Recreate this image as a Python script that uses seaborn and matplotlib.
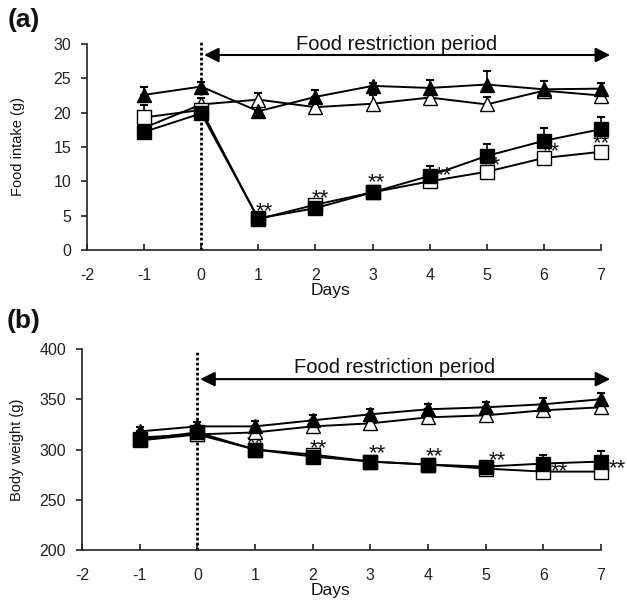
import numpy as np
import pandas as pd
import matplotlib
matplotlib.use("Agg")
import matplotlib.pyplot as plt
import seaborn as sns

days = [-1, 0, 1, 2, 3, 4, 5, 6, 7]

# (a) food intake (g)
fi_tri_fill = [22.6, 23.8, 20.2, 22.3, 23.9, 23.6, 24.1, 23.4, 23.5]
fi_tri_fill_err = [1.1, 0.7, 0.0, 1.0, 0.4, 1.1, 2.0, 1.2, 0.8]
fi_tri_open = [17.8, 21.2, 21.9, 20.8, 21.3, 22.2, 21.2, 23.2, 22.5]
fi_tri_open_err = [0.0, 1.0, 1.0, 0.0, 1.3, 0.4, 1.1, 0.0, 0.0]
fi_sq_open = [19.3, 20.4, 4.5, 6.6, 8.4, 10.0, 11.4, 13.4, 14.3]
fi_sq_open_err = [1.8, 0.0, 0.0, 0.0, 0.0, 0.0, 0.0, 0.0, 0.0]
fi_sq_fill = [17.2, 19.9, 4.6, 6.1, 8.4, 10.8, 13.7, 15.9, 17.6]
fi_sq_fill_err = [0.0, 0.0, 0.0, 0.0, 0.5, 1.4, 1.8, 1.8, 1.7]
fi_star_x = [1.1, 2.08, 3.06, 4.24, 5.1, 6.13, 7.0]
fi_star_y = [5.8, 7.7, 10.0, 11.0, 12.5, 14.6, 15.7]

# (b) body weight (g)
bw_tri_fill = [318, 323, 323, 329, 335, 340, 342, 345, 350]
bw_tri_fill_err = [4, 4, 5, 5, 5, 5, 5, 6, 6]
bw_tri_open = [312, 315, 317, 323, 326, 332, 334, 339, 342]
bw_tri_open_err = [0, 0, 0, 0, 0, 0, 0, 0, 0]
bw_sq_open = [309, 315, 300, 295, 288, 285, 281, 278, 278]
bw_sq_open_err = [0, 0, 0, 0, 0, 0, 3, 0, 0]
bw_sq_fill = [310, 317, 300, 293, 288, 285, 283, 286, 288]
bw_sq_fill_err = [0, 0, 0, 0, 0, 0, 3, 9, 11]
bw_star_x = [1.0, 2.09, 3.12, 4.11, 5.2, 6.27, 7.29]
bw_star_y = [307, 302, 297, 294, 290, 279, 282]

sns.set_style("ticks")
plt.rcParams["font.family"] = ["Liberation Sans", "DejaVu Sans"]
plt.rcParams["axes.unicode_minus"] = False

fig = plt.figure(figsize=(6.27, 6.01), dpi=100)
W, H = 627, 601
ax_a = fig.add_axes([87 / W, 1 - 250 / H, (601 - 87) / W, (250 - 44) / H])
ax_b = fig.add_axes([82 / W, 1 - 550 / H, (601 - 82) / W, (550 - 349) / H])


def draw_series(ax, vals, err, marker, filled, z):
    ax.errorbar(days, vals, yerr=[np.zeros(len(err)), err], fmt="none",
                ecolor="black", elinewidth=1.2, capsize=3, capthick=1.5,
                zorder=z - 0.5, clip_on=False)
    df = pd.DataFrame({"day": days, "val": vals})
    sns.lineplot(data=df, x="day", y="val", ax=ax, color="black", lw=1.4,
                 marker=marker, markersize=10 if marker == "^" else 9.5,
                 mfc="black" if filled else "white", mec="black", mew=1,
                 errorbar=None, zorder=z, clip_on=False)


def draw_stars(ax, xs, ys, z):
    # asterisks sit high in the glyph box: anchor on baseline, shift down
    for x, y in zip(xs, ys):
        ax.annotate("**", xy=(x, y), xytext=(0, -5), textcoords="offset points",
                    ha="center", va="baseline", fontsize=16, color="#111111",
                    zorder=z, annotation_clip=False)


def style_axes(ax, ylim, yticks, ylabel, label_x, panel, panel_y,
               arrow_y, text_y, dot_top, days_y, top_px, bot_px):
    ax.set_xlim(-2, 7)
    ax.set_ylim(*ylim)
    ax.set_xticks(range(-2, 8))
    ax.set_yticks(yticks)
    ax.set_xlabel("")
    ax.set_ylabel("")
    sns.despine(ax=ax)
    for s in ["left", "bottom"]:
        ax.spines[s].set_linewidth(1.2)
        ax.spines[s].set_color("#222222")
    ax.tick_params(axis="x", direction="in", length=4, width=1.2, pad=13,
                   labelsize=11.5, colors="#222222")
    ax.tick_params(axis="y", direction="out", length=4.5, width=1.2, pad=7,
                   labelsize=11.5, colors="#222222")
    ax.axvline(0, ymin=0, ymax=dot_top, color="black", ls=(0, (1, 0.8)),
               lw=2, clip_on=False, zorder=1)
    ax.annotate("", xy=(7.16, arrow_y), xytext=(0.05, arrow_y),
                arrowprops=dict(arrowstyle="<|-|>", color="black", lw=1.5,
                                mutation_scale=22, shrinkA=0, shrinkB=0),
                annotation_clip=False)
    ax.text(3.42, text_y, "Food restriction period", ha="center", va="center",
            fontsize=14.5, color="#111111", clip_on=False)
    fig.text(label_x / W, 1 - ((top_px + bot_px) / 2) / H, ylabel,
             rotation=90, ha="center", va="center", fontsize=10.5,
             color="#111111")
    fig.text(330 / W, 1 - days_y / H, "Days", ha="center", va="center",
             fontsize=12.5, color="#111111")
    fig.text(24 / W, 1 - panel_y / H, panel, ha="center", va="center",
             fontsize=19, fontweight="bold", color="#111111")


draw_series(ax_a, fi_tri_open, fi_tri_open_err, "^", False, 3)
draw_series(ax_a, fi_tri_fill, fi_tri_fill_err, "^", True, 4)
draw_series(ax_a, fi_sq_open, fi_sq_open_err, "s", False, 5)
draw_series(ax_a, fi_sq_fill, fi_sq_fill_err, "s", True, 6)
draw_stars(ax_a, fi_star_x, fi_star_y, 7)

draw_series(ax_b, bw_tri_open, bw_tri_open_err, "^", False, 3)
draw_series(ax_b, bw_tri_fill, bw_tri_fill_err, "^", True, 4)
draw_series(ax_b, bw_sq_open, bw_sq_open_err, "s", False, 5)
draw_series(ax_b, bw_sq_fill, bw_sq_fill_err, "s", True, 6)
draw_stars(ax_b, bw_star_x, bw_star_y, 2)

style_axes(ax_a, (0, 30), range(0, 31, 5), "Food intake (g)", 18, "(a)", 20,
           28.4, 30.0, 1.02, 290, 44, 250)
style_axes(ax_b, (200, 400), range(200, 401, 50), "Body weight (g)", 17.5,
           "(b)", 321, 370, 382, 0.985, 591, 349, 550)

fig.savefig("out.png", dpi=100)
